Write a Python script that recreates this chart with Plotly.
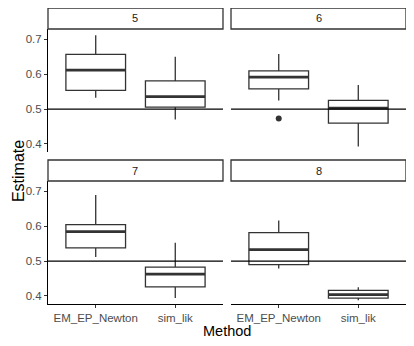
import plotly.graph_objects as go
from plotly.subplots import make_subplots

panels = ["5", "6", "7", "8"]
methods = ["EM_EP_Newton", "sim_lik"]

# box statistics, one entry per (panel, method), panel-major order
whisker_low = [0.533, 0.470, 0.525, 0.393, 0.512, 0.394, 0.479, 0.388]
q1 = [0.554, 0.506, 0.558, 0.460, 0.538, 0.426, 0.490, 0.394]
median = [0.612, 0.536, 0.592, 0.503, 0.585, 0.463, 0.533, 0.404]
q3 = [0.657, 0.581, 0.610, 0.525, 0.605, 0.483, 0.582, 0.416]
whisker_high = [0.712, 0.650, 0.658, 0.569, 0.690, 0.553, 0.617, 0.425]

outlier_panel = ["6"]
outlier_method = ["EM_EP_Newton"]
outlier_value = [0.473]

true_value = 0.5

fig = make_subplots(rows=2, cols=2)

x_dom = [[0, 0.4888], [0.5112, 1]]
y_dom = [[0.5135, 0.9291], [0, 0.4155]]
strip_dom = [[0.9291, 1], [0.4155, 0.4865]]

box_color = "#333333"
half = 0.375

for p, panel in enumerate(panels):
    row, col = p // 2 + 1, p % 2 + 1
    for m, method in enumerate(methods):
        i = p * len(methods) + m
        pos = m + 1
        fig.add_trace(go.Box(
            x=[pos], q1=[q1[i]], median=[median[i]], q3=[q3[i]],
            lowerfence=[whisker_low[i]], upperfence=[whisker_high[i]],
            width=0.75, whiskerwidth=0, fillcolor="white",
            line=dict(color=box_color, width=1.3), boxpoints=False,
            showlegend=False), row=row, col=col)
        fig.add_trace(go.Scatter(
            x=[pos - half, pos + half], y=[median[i], median[i]],
            mode="lines", line=dict(color=box_color, width=2.8),
            showlegend=False, hoverinfo="skip"), row=row, col=col)
    for k in range(len(outlier_value)):
        if outlier_panel[k] == panel:
            fig.add_trace(go.Scatter(
                x=[methods.index(outlier_method[k]) + 1], y=[outlier_value[k]],
                mode="markers", marker=dict(color=box_color, size=6),
                showlegend=False), row=row, col=col)

    ax = "" if p == 0 else str(p + 1)
    fig.update_xaxes(domain=x_dom[col - 1], range=[0.4, 2.6],
                     tickvals=[1, 2], ticktext=methods, automargin=False,
                     showticklabels=(row == 2), showline=(row == 2),
                     linecolor="black", linewidth=1,
                     ticks="outside" if row == 2 else "", ticklen=3,
                     tickcolor=box_color, showgrid=False, zeroline=False,
                     tickfont=dict(size=11.5, color="#4d4d4d"),
                     row=row, col=col)
    fig.update_yaxes(domain=y_dom[row - 1], range=[0.377, 0.730],
                     tickvals=[0.4, 0.5, 0.6, 0.7], automargin=False,
                     showticklabels=(col == 1), showline=(col == 1),
                     linecolor="black", linewidth=1,
                     ticks="outside" if col == 1 else "", ticklen=3,
                     tickcolor=box_color, showgrid=False, zeroline=False,
                     tickfont=dict(size=11.5, color="#4d4d4d"),
                     row=row, col=col)
    fig.add_shape(type="line", xref="x" + ax + " domain", yref="y" + ax,
                  x0=0, x1=1, y0=true_value, y1=true_value,
                  line=dict(color="black", width=1.2))
    fig.add_shape(type="rect", xref="paper", yref="paper",
                  x0=x_dom[col - 1][0], x1=x_dom[col - 1][1],
                  y0=strip_dom[row - 1][0], y1=strip_dom[row - 1][1],
                  line=dict(color="#333333", width=1.3), fillcolor="white")
    fig.add_annotation(text=panel, xref="paper", yref="paper",
                       x=sum(x_dom[col - 1]) / 2, y=sum(strip_dom[row - 1]) / 2,
                       xanchor="center", yanchor="middle",
                       showarrow=False, font=dict(size=11, color="#1a1a1a"))

fig.add_annotation(text="Method", xref="paper", yref="paper", x=0.5, y=0,
                   yshift=-27, xanchor="center", yanchor="middle", showarrow=False,
                   font=dict(size=14.5, color="black"))
fig.add_annotation(text="Estimate", xref="paper", yref="paper", x=0, y=0.449,
                   xshift=-30, xanchor="center", yanchor="middle",
                   textangle=-90, showarrow=False,
                   font=dict(size=16, color="black"))

# page body keeps an 8px margin, so the figure is sized to fill the rest
fig.update_layout(
    width=406, height=338,
    margin=dict(l=40, r=8, t=0, b=42),
    plot_bgcolor="white", paper_bgcolor="white",
    font=dict(family="Liberation Sans, Arial, sans-serif"),
)

fig.write_html("out.html")
